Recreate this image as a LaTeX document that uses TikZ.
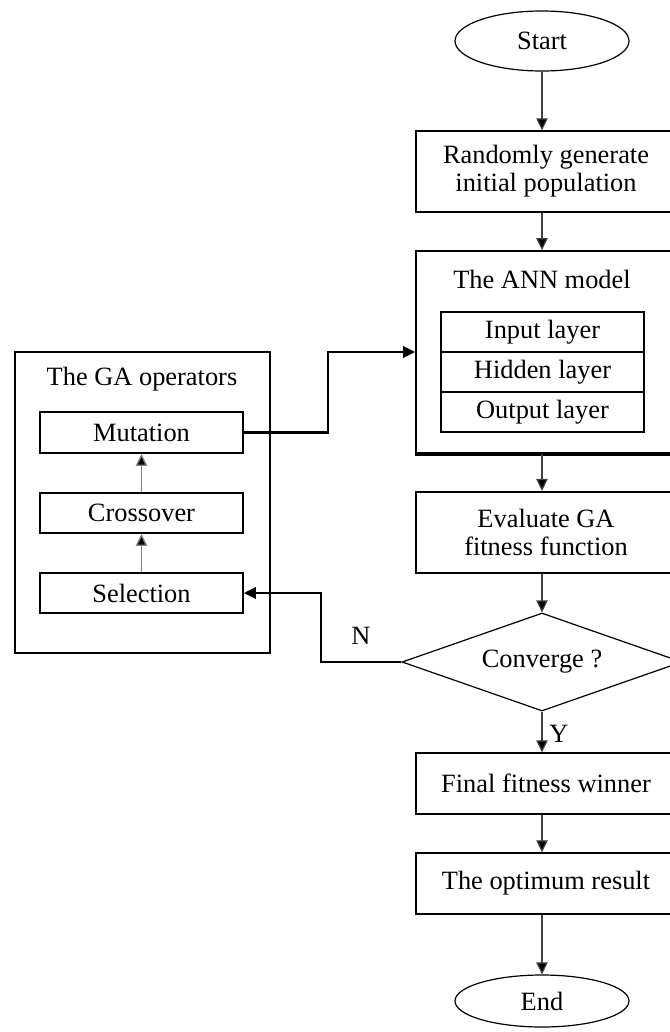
\documentclass[tikz,border=0pt]{standalone}
\usepackage{fontspec}
\setmainfont{Liberation Serif}
\usetikzlibrary{shapes.geometric,arrows.meta}
\begin{document}
\begin{tikzpicture}[x=0.75pt,y=-0.75pt,
  font=\fontsize{19.8pt}{21pt}\selectfont,
  box/.style={draw,rectangle,line width=1pt,inner sep=0pt,align=center},
  term/.style={draw,ellipse,line width=0.9pt,inner sep=0pt,minimum width=130.5pt},
  cell/.style={draw,rectangle,line width=1pt,inner sep=0pt,minimum width=152.25pt,minimum height=30pt},
  tip/.style={-{Triangle[length=9pt,width=8.5pt,fill=black]}},
  flow/.style={draw=black!75,line width=0.9pt,tip},
  thickflow/.style={draw=black,line width=1.6pt,tip},
  inner/.style={draw=black!50,line width=1pt,tip},
  lbl/.style={inner sep=0pt}]
\useasboundingbox (0,0) rectangle (670,1032);
\clip (0,0) rectangle (670,1032);

% main column
\node[term,minimum height=45pt] (start) at (542,41) {Start};
\node[box,minimum width=195pt,minimum height=60.75pt] (rand) at (546,171.5)
  {Randomly generate\\initial population};
\node[box,minimum width=195pt,minimum height=151.5pt,line width=1.3pt] (ann) at (546,352) {};
\draw[line width=2.6pt] (ann.south west) -- (ann.south east);
\node[lbl] (anntitle) at (542,279) {The ANN model};
\node[cell] (inp) at (542.5,332) {Input layer};
\node[cell] (hid) at (542.5,372) {Hidden layer};
\node[cell] (outl) at (542.5,412) {Output layer};
\node[box,minimum width=195pt,minimum height=60.75pt,line width=1.6pt] (eval) at (546,532.5)
  {Evaluate GA\\fitness function};
\node[draw,diamond,line width=0.9pt,inner sep=0pt,aspect=2.857,minimum width=210pt,minimum height=73.5pt]
  (conv) at (542,662) {Converge ?};
\node[box,minimum width=195pt,minimum height=45.75pt] (final) at (546,783.5) {Final fitness winner};
\node[box,minimum width=195pt,minimum height=45.75pt] (opt) at (546,883.5) {The optimum result};
\node[term,minimum height=39pt] (end) at (542,1001) {End};

% GA operators group
\node[box,minimum width=191.25pt,minimum height=225.75pt,line width=1.5pt] (ga) at (142.5,502.5) {};
\node[lbl] (gatitle) at (142,379) {The GA operators};
\node[box,minimum width=152.25pt,minimum height=30.75pt,line width=1.3pt] (mut) at (141.5,432.5) {Mutation};
\node[box,minimum width=152.25pt,minimum height=30pt,line width=1.3pt] (cross) at (141.5,513) {Crossover};
\node[box,minimum width=152.25pt,minimum height=30pt,line width=1.3pt] (sel) at (141.5,593) {Selection};

% main flow
\draw[flow] (start.south) -- (start.south |- rand.north);
\draw[flow] (rand.south -| start) -- (ann.north -| start);
\draw[flow] (ann.south -| start) -- (eval.north -| start);
\draw[flow] (eval.south -| start) -- (conv.north);
\draw[flow] (conv.south) -- (conv.south |- final.north)
  node[lbl,pos=0.55,right=5pt] (ylbl) {Y};
\draw[flow] (final.south -| start) -- (opt.north -| start);
\draw[flow] (opt.south -| start) -- (end.north);

% loop back through the GA operators
\draw[thickflow] (conv.west) -- ++(-80,0) |- (sel.east);
\node[lbl] (nlbl) at (361,636) {N};
\draw[inner] (sel.north) -- (cross.south);
\draw[inner] (cross.north) -- (mut.south);
\draw[thickflow] (mut.east) -- (328,432.5) |- (ann.west);
\end{tikzpicture}
\end{document}
